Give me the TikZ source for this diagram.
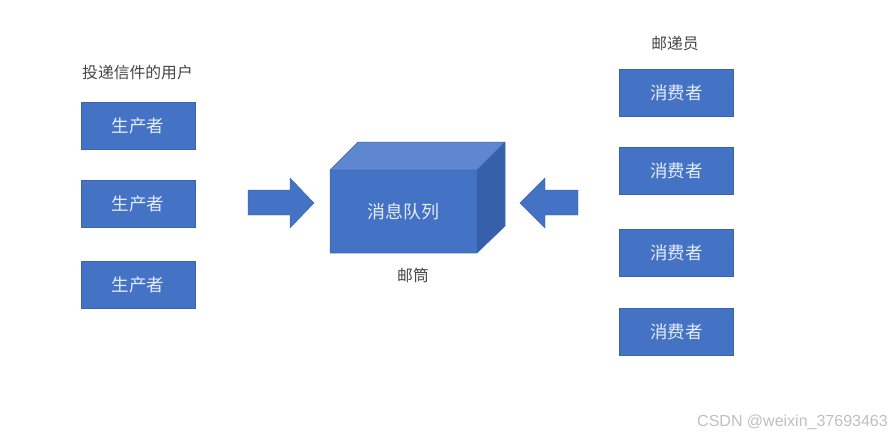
\documentclass[tikz,border=0pt]{standalone}
\usepackage{fontspec}
\setmainfont{Liberation Sans}
\newfontfamily\cjk{Noto Sans CJK SC}
\definecolor{boxblue}{HTML}{4472C4}
\definecolor{boxedge}{HTML}{3A64B0}
\definecolor{topblue}{HTML}{5F87CF}
\definecolor{sideblue}{HTML}{3760AA}
\definecolor{labelgray}{HTML}{454545}
\definecolor{boxtext}{HTML}{E4ECFA}
\tikzset{
  rolebox/.style={draw=boxedge, line width=0.6pt, fill=boxblue, minimum width=114pt, minimum height=47pt, inner sep=0pt, text=boxtext, font=\cjk\fontsize{17.5}{19}\selectfont},
  caption/.style={text=labelgray, font=\cjk\fontsize{15.8}{17}\selectfont, inner sep=0pt},
  bigarrow/.style={fill=boxblue, draw=boxedge, line width=0.4pt},
}
\begin{document}
\begin{tikzpicture}[x=1pt,y=-1pt]
\useasboundingbox (0,0) rectangle (892,437);
% producers
\node[rolebox] (p1) at (138,126) {生产者};
\node[rolebox] (p2) at (138,203.5) {生产者};
\node[rolebox] (p3) at (138,284.5) {生产者};
\node[caption, anchor=west] (user) at (82,72) {投递信件的用户};
% consumers
\node[rolebox] (c1) at (676.5,92.5) {消费者};
\node[rolebox] (c2) at (676.5,170.5) {消费者};
\node[rolebox] (c3) at (676.5,252.5) {消费者};
\node[rolebox] (c4) at (676.5,331.5) {消费者};
\node[caption] (postman) at (675,44) {邮递员};
% cube
\coordinate (fa) at (330,170);
\coordinate (fb) at (477,170);
\coordinate (fc) at (477,253);
\coordinate (fd) at (330,253);
\coordinate (ba) at (358,142);
\coordinate (bb) at (505,142);
\coordinate (bc) at (505,226);
\fill[topblue] (fa) -- (ba) -- (bb) -- (fb) -- cycle;
\fill[sideblue] (fb) -- (bb) -- (bc) -- (fc) -- cycle;
\fill[boxblue] (fa) rectangle (fc);
\draw[boxedge, line width=0.5pt] (fa) -- (ba) -- (bb) -- (bc) -- (fc) -- (fd) -- cycle (fa) -- (fb) -- (fc) (fb) -- (bb);
\node[text=boxtext, font=\cjk\fontsize{18}{20}\selectfont] (mq) at (403.5,211.5) {消息队列};
\node[caption] (mailbox) at (413,275) {邮筒};
% arrows
\draw[bigarrow] (248,190) -- (290,190) -- (290,178) -- (314,203) -- (290,228) -- (290,215) -- (248,215) -- cycle;
\draw[bigarrow] (578,190) -- (545,190) -- (545,178) -- (520,203) -- (545,228) -- (545,215) -- (578,215) -- cycle;
% watermark
\node[anchor=east, text=black!25, font=\fontsize{16}{18}\selectfont, inner sep=0pt] (wm) at (888,422) {CSDN @weixin\_37693463};
\end{tikzpicture}
\end{document}
